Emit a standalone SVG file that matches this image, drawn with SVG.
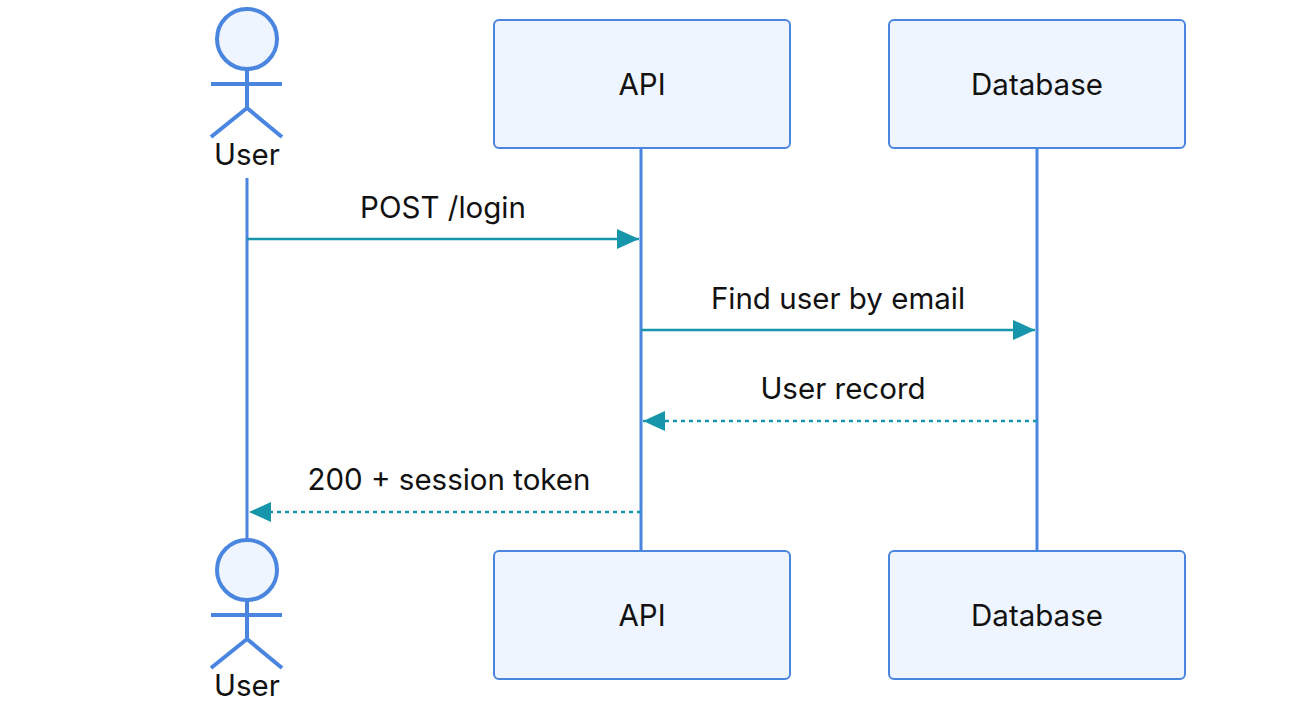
<svg xmlns="http://www.w3.org/2000/svg" width="1300" height="710" viewBox="0 0 1300 710">
<defs>
<style>
.box{fill:#eef5fe;stroke:#4a86e0;stroke-width:2}
.life{stroke:#4a86e0;stroke-width:3}
.act{fill:none;stroke:#4a86e0;stroke-width:4}
.t{font-family:"Inter","Noto Sans",sans-serif;font-size:29.5px;fill:#111;text-anchor:middle}
.msg{stroke:#1796ab;stroke-width:2.5;fill:none}
.dash{stroke-dasharray:4 4}
</style>
<marker id="a" viewBox="0 0 22 20" refX="22" refY="10" markerWidth="22" markerHeight="20" markerUnits="userSpaceOnUse" orient="auto">
<path d="M0,0 L22,10 L0,20 z" fill="#1796ab"/>
</marker>
</defs>
<g id="lifelines">
<line class="life" x1="247" y1="178" x2="247" y2="540"/>
<line class="life" x1="641" y1="148" x2="641" y2="551"/>
<line class="life" x1="1037" y1="148" x2="1037" y2="551"/>
</g>
<g id="user-top">
<circle cx="247" cy="39" r="30" fill="#eef5fe" stroke="#4a86e0" stroke-width="4"/>
<path class="act" d="M247,69 V108 M211,84 H282 M211,137 L247,108 L282,137"/>
<text class="t" x="247" y="165">User</text>
</g>
<g id="api-top"><rect class="box" x="494" y="20" width="296" height="128" rx="5"/><text class="t" x="642" y="95">API</text></g>
<g id="db-top"><rect class="box" x="889" y="20" width="296" height="128" rx="5"/><text class="t" x="1037" y="95">Database</text></g>
<g id="user-bottom">
<circle cx="247" cy="570" r="30" fill="#eef5fe" stroke="#4a86e0" stroke-width="4"/>
<path class="act" d="M247,600 V639 M211,615 H282 M211,668 L247,639 L282,668"/>
<text class="t" x="247" y="696">User</text>
</g>
<g id="api-bottom"><rect class="box" x="494" y="551" width="296" height="128" rx="5"/><text class="t" x="642" y="626">API</text></g>
<g id="db-bottom"><rect class="box" x="889" y="551" width="296" height="128" rx="5"/><text class="t" x="1037" y="626">Database</text></g>
<g id="connectors">
<line class="msg" x1="247" y1="239" x2="639" y2="239" marker-end="url(#a)"/>
<text class="t" x="443" y="218">POST /login</text>
<line class="msg" x1="641" y1="330" x2="1035" y2="330" marker-end="url(#a)"/>
<text class="t" x="838" y="309">Find user by email</text>
<line class="msg dash" x1="1037" y1="421" x2="643" y2="421" marker-end="url(#a)"/>
<text class="t" x="843" y="399">User record</text>
<line class="msg dash" x1="641" y1="512" x2="249" y2="512" marker-end="url(#a)"/>
<text class="t" x="449" y="490">200 + session token</text>
</g>
</svg>
